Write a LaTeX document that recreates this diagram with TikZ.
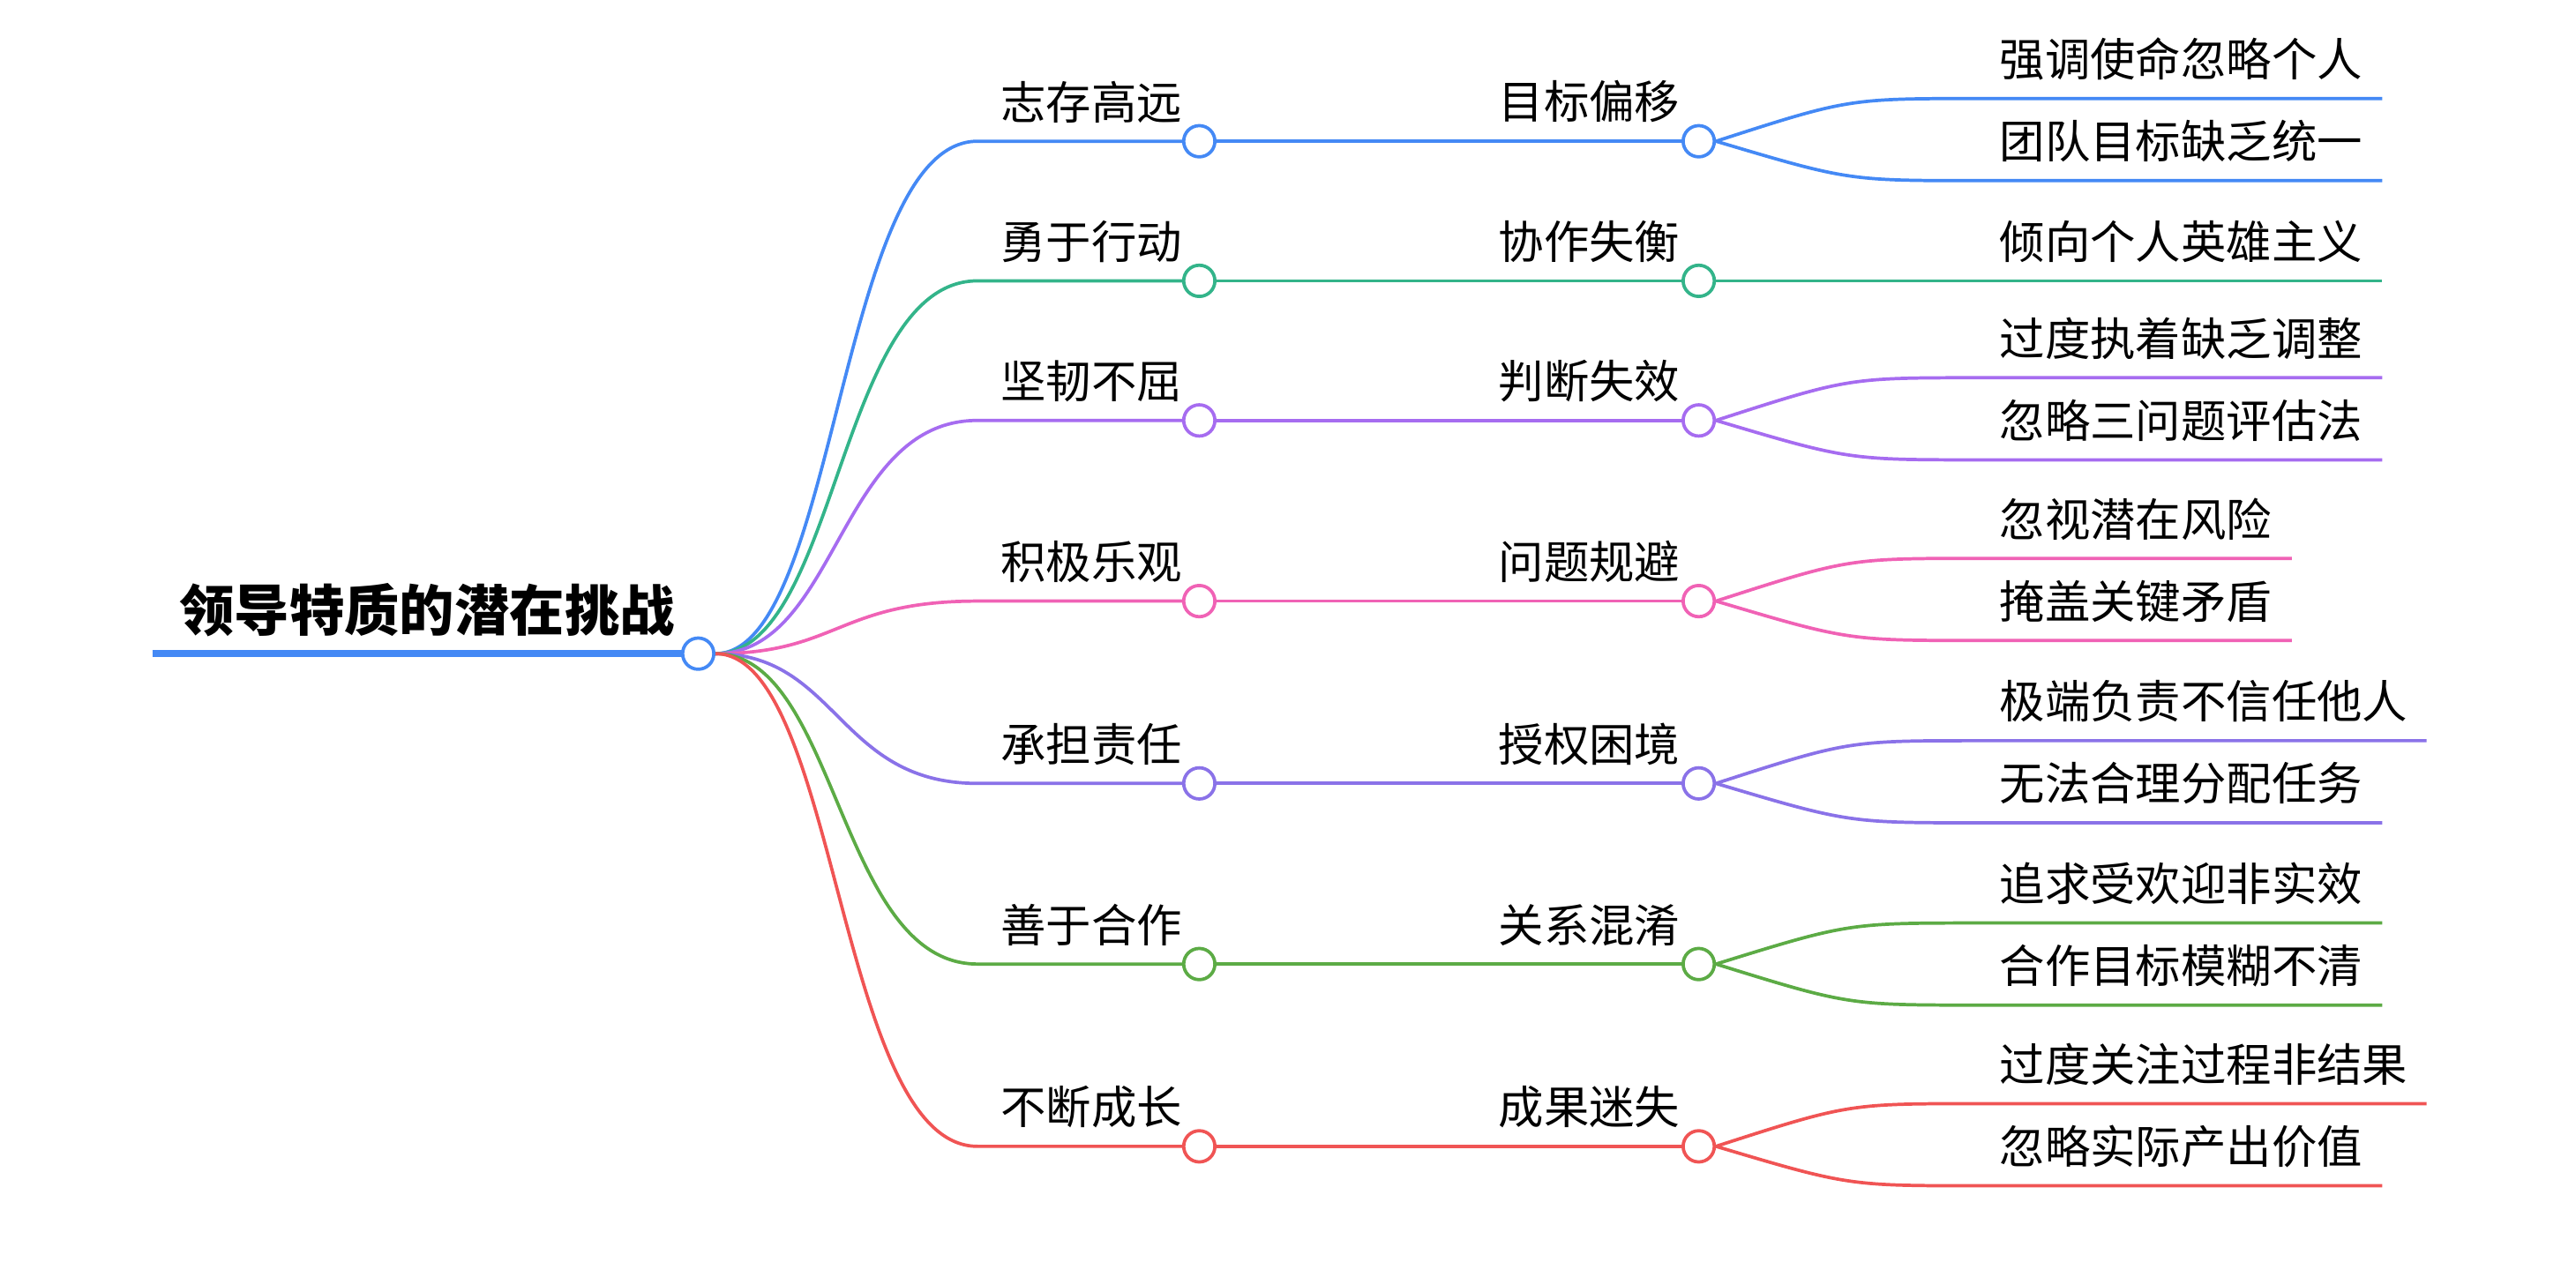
\documentclass[tikz,border=0pt]{standalone}
\usepackage{fontspec}
\setmainfont{Noto Sans CJK SC}
\definecolor{cA}{HTML}{4489F5}
\definecolor{cB}{HTML}{33B48A}
\definecolor{cC}{HTML}{A66CF0}
\definecolor{cD}{HTML}{F062B5}
\definecolor{cE}{HTML}{8A72E8}
\definecolor{cF}{HTML}{5CAB45}
\definecolor{cG}{HTML}{F05454}
\tikzset{
  dot/.style={circle,draw=#1,fill=white,line width=2pt,minimum size=19pt,inner sep=0pt},
  lbl/.style={anchor=south west,inner sep=0pt,font=\fontsize{27.6}{29}\selectfont},
  wire/.style={draw=#1,line width=2pt}
}
\begin{document}
\begin{tikzpicture}[x=1pt,y=-1pt]
\useasboundingbox (0,0) rectangle (1568,768);
% root
\draw [cA,line width=4.5pt] (93,398) -- (425,398);
\node [anchor=south,inner sep=0pt,font=\fontsize{33.5}{35}\selectfont\bfseries] (title) at (260,388) {领导特质的潜在挑战};
\node [dot=cA] (root) at (425,398) {};
% branches
\foreach \y/\c/\ta/\tb [count=\i] in {86/cA/志存高远/目标偏移,171/cB/勇于行动/协作失衡,256/cC/坚韧不屈/判断失效,366/cD/积极乐观/问题规避,477/cE/承担责任/授权困境,587/cF/善于合作/关系混淆,698/cG/不断成长/成果迷失} {
  \node [dot=\c] (a\i) at (730,\y) {};
  \node [dot=\c] (b\i) at (1034,\y) {};
  \node [lbl] (ta\i) at (609,\y-11) {\ta};
  \node [lbl] (tb\i) at (912,\y-11) {\tb};
  \draw [wire=\c] (root.east) .. controls (510,398) and (510,\y) .. (595,\y) -- (a\i.west);
  \draw [wire=\c] (a\i.east) -- (b\i.west);
}
% leaves
\foreach \p/\y/\e/\c/\t [count=\j] in {1/60/1450/cA/强调使命忽略个人,1/110/1450/cA/团队目标缺乏统一,2/171/1450/cB/倾向个人英雄主义,3/230/1450/cC/过度执着缺乏调整,3/280/1450/cC/忽略三问题评估法,4/340/1395/cD/忽视潜在风险,4/390/1395/cD/掩盖关键矛盾,5/451/1477/cE/极端负责不信任他人,5/501/1450/cE/无法合理分配任务,6/562/1450/cF/追求受欢迎非实效,6/612/1450/cF/合作目标模糊不清,7/672/1477/cG/过度关注过程非结果,7/722/1450/cG/忽略实际产出价值} {
  \coordinate (e\j) at (\e,\y);
  \node [lbl] (tc\j) at (1217,\y-11) {\t};
  \draw [wire=\c] (b\p.east) .. controls (1125,\y*0+\y) and (1125,\y) .. (1205,\y) -- (e\j);
}
\end{tikzpicture}
\end{document}
